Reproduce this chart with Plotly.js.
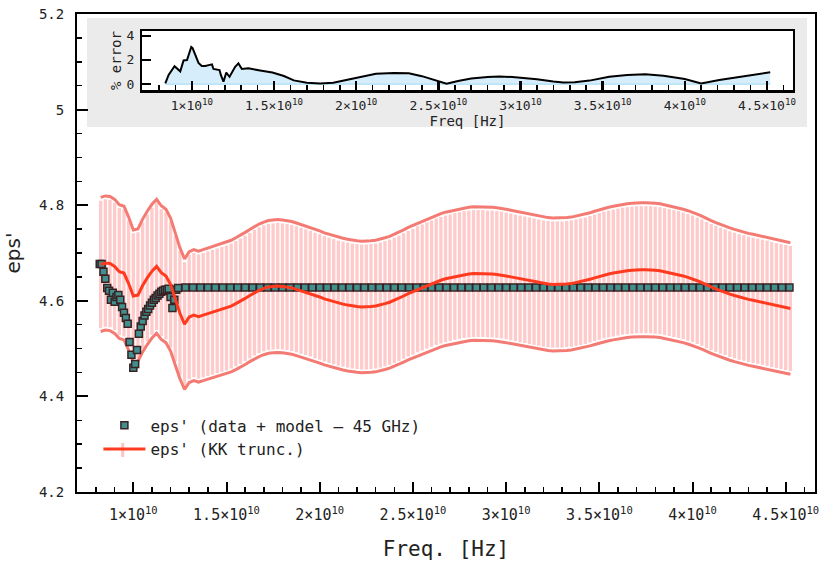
<!DOCTYPE html>
<html>
<head>
<meta charset="utf-8">
<script src="https://cdn.plot.ly/plotly-3.0.1.min.js"></script>
<style>html,body{margin:0;padding:0;background:#fff;}</style>
</head>
<body>
<div id="chart" style="width:826px;height:565px;"></div>
<script>
// ---- data (frequencies in GHz, converted to Hz for plotting) ----
const dataFreqGHz = [8.2,8.3,8.4,8.5,8.6,8.7,8.8,8.9,9.0,9.1,9.2,9.3,9.4,9.5,9.6,9.7,9.8,9.9,10.0,10.1,10.2,10.3,10.4,10.5,10.6,10.7,10.8,10.9,11.0,11.1,11.2,11.3,11.4,11.5,11.6,11.7,11.8,11.9,12.0,12.1,12.2,12.3,12.4,
  12.8,13.2,13.6,14.0,14.4,14.8,15.2,15.6,16.0,16.4,
  16.8,17.2,17.6,18.0,18.4,18.8,19.2,19.6,20.0,20.4,
  20.8,21.2,21.6,22.0,22.4,22.8,23.2,23.6,24.0,24.4,
  24.8,25.2,25.6,26.0,26.4,26.8,27.2,27.6,28.0,28.4,
  28.8,29.2,29.6,30.0,30.4,30.8,31.2,31.6,32.0,32.4,
  32.8,33.2,33.6,34.0,34.4,34.8,35.2,35.6,36.0,36.4,
  36.8,37.2,37.6,38.0,38.4,38.8,39.2,39.6,40.0,40.4,
  40.8,41.2,41.6,42.0,42.4,42.8,43.2,43.6,44.0,44.4,
  44.8,45.2];
const dataEps = [4.677,4.677,4.661,4.646,4.627,4.621,4.602,4.617,4.598,4.608,4.612,4.602,4.587,4.575,4.564,4.552,4.514,4.487,4.460,4.468,4.497,4.531,4.546,4.558,4.569,4.577,4.583,4.590,4.596,4.602,4.606,4.611,4.615,4.619,4.621,4.623,4.623,4.625,4.608,4.585,4.602,4.623,4.627,
  4.628,4.628,4.628,4.628,4.628,4.628,4.628,4.628,4.628,4.628,
  4.628,4.628,4.628,4.628,4.628,4.628,4.628,4.628,4.628,4.628,
  4.628,4.628,4.628,4.628,4.628,4.628,4.628,4.628,4.628,4.628,
  4.628,4.628,4.628,4.628,4.628,4.628,4.628,4.628,4.628,4.628,
  4.628,4.628,4.628,4.628,4.628,4.628,4.628,4.628,4.628,4.628,
  4.628,4.628,4.628,4.628,4.628,4.628,4.628,4.628,4.628,4.628,
  4.628,4.628,4.628,4.628,4.628,4.628,4.628,4.628,4.628,4.628,
  4.628,4.628,4.628,4.628,4.628,4.628,4.628,4.628,4.628,4.628,
  4.628,4.628];

const kkFreqGHz = [8.25,8.5,8.75,9.0,9.25,9.5,9.75,10.0,10.25,10.5,10.75,11.0,11.25,11.5,11.75,12.0,12.25,12.5,12.75,13.0,13.25,13.5,13.75,14.0,14.25,14.5,14.75,15.0,15.25,15.5,15.75,16.0,16.25,16.5,16.75,17.0,17.25,17.5,17.75,18.0,18.25,18.5,18.75,19.0,19.25,19.5,19.75,20.0,20.25,20.5,20.75,21.0,21.25,21.5,21.75,22.0,22.25,22.5,22.75,23.0,23.25,23.5,23.75,24.0,24.25,24.5,24.75,25.0,25.25,25.5,25.75,26.0,26.25,26.5,26.75,27.0,27.25,27.5,27.75,28.0,28.25,28.5,28.75,29.0,29.25,29.5,29.75,30.0,30.25,30.5,30.75,31.0,31.25,31.5,31.75,32.0,32.25,32.5,32.75,33.0,33.25,33.5,33.75,34.0,34.25,34.5,34.75,35.0,35.25,35.5,35.75,36.0,36.25,36.5,36.75,37.0,37.25,37.5,37.75,38.0,38.25,38.5,38.75,39.0,39.25,39.5,39.75,40.0,40.25,40.5,40.75,41.0,41.25,41.5,41.75,42.0,42.25,42.5,42.75,43.0,43.25,43.5,43.75,44.0,44.25,44.5,44.75,45.0,45.25];
const kkEps = [4.676,4.679,4.678,4.672,
  4.661,4.658,4.636,4.610,
  4.612,4.632,4.648,4.662,
  4.672,4.659,4.652,4.634,
  4.604,4.574,4.551,4.566,
  4.570,4.567,4.570,4.573,
  4.576,4.579,4.582,4.585,
  4.589,4.594,4.599,4.605,
  4.611,4.617,4.622,4.626,
  4.629,4.630,4.631,4.630,
  4.629,4.627,4.624,4.621,
  4.618,4.615,4.611,4.608,
  4.604,4.601,4.598,4.595,
  4.593,4.591,4.589,4.588,
  4.587,4.587,4.588,4.589,
  4.591,4.594,4.597,4.601,
  4.605,4.610,4.615,4.619,
  4.624,4.628,4.632,4.636,
  4.640,4.643,4.646,4.648,
  4.651,4.653,4.655,4.656,
  4.657,4.657,4.657,4.656,
  4.656,4.655,4.654,4.652,
  4.650,4.648,4.646,4.644,
  4.642,4.640,4.638,4.636,
  4.635,4.634,4.634,4.634,
  4.635,4.636,4.638,4.640,
  4.642,4.645,4.648,4.651,
  4.654,4.656,4.658,4.660,
  4.662,4.663,4.664,4.665,
  4.665,4.665,4.665,4.664,
  4.663,4.661,4.659,4.657,
  4.655,4.652,4.649,4.646,
  4.642,4.638,4.633,4.629,
  4.625,4.621,4.618,4.614,
  4.611,4.608,4.606,4.603,
  4.601,4.599,4.597,4.595,
  4.592,4.590,4.588,4.586,
  4.584];
const kkErrPct = 3;   // KK truncation uncertainty, % of value

const errFreqGHz = [8.38,8.58,8.94,9.29,9.49,9.70,9.96,10.04,10.40,10.60,10.81,11.05,11.22,11.31,11.52,11.68,11.76,11.92,12.09,12.29,12.63,12.83,13.04,13.44,14.15,14.9,15.6,16.2,17.0,17.8,18.6,19.4,20.2,21.2,22.3,23.2,24.0,24.8,25.5,26.2,27.0,28.0,28.7,29.5,30.0,31.0,32.0,32.6,33.3,34.2,35.4,36.5,37.6,38.7,40.0,41.0,42.1,43.5,45.2];
const errPct = [0.06,0.75,1.48,1.05,1.95,1.99,3.07,2.98,1.75,1.50,1.50,1.55,1.63,1.25,1.18,1.16,0.75,0.19,0.94,0.60,1.43,1.71,1.24,1.30,1.12,0.95,0.66,0.30,0.10,0.05,0.10,0.33,0.60,0.85,0.92,0.89,0.65,0.30,0.03,0.25,0.45,0.58,0.62,0.58,0.54,0.40,0.20,0.12,0.15,0.28,0.60,0.75,0.80,0.69,0.41,0.04,0.33,0.60,0.97];

const xTickVals = [1e10,1.5e10,2e10,2.5e10,3e10,3.5e10,4e10,4.5e10];
const xTickText = ['1×10<sup>10</sup>','1.5×10<sup>10</sup>','2×10<sup>10</sup>','2.5×10<sup>10</sup>','3×10<sup>10</sup>','3.5×10<sup>10</sup>','4×10<sup>10</sup>','4.5×10<sup>10</sup>'];
const yTickValsInset = [0,2,4];

// ---- build traces ----
const GHz = 1e9;
const dataHz = dataFreqGHz.map(f => f*GHz);
const kkHz = kkFreqGHz.map(f => f*GHz);
const errHz = errFreqGHz.map(f => f*GHz);
const kkUpper = kkEps.map(v => v*(1+kkErrPct/100));
const kkLower = kkEps.map(v => v*(1-kkErrPct/100));

const MONO = 'DejaVu Sans Mono';
const traces = [
  { // error bars of the KK series (pink band)
    x: kkHz, y: kkEps, type:'scatter', mode:'lines',
    line:{width:0, color:'rgba(0,0,0,0)'},
    error_y:{type:'percent', value: kkErrPct - 0.15, color:'#ffcaca', thickness:3.3, width:0},
    showlegend:false, hoverinfo:'skip'
  },
  { x: kkHz, y: kkUpper, type:'scatter', mode:'lines', line:{color:'#f47b73', width:3}, showlegend:false, hoverinfo:'skip' },
  { x: kkHz, y: kkLower, type:'scatter', mode:'lines', line:{color:'#f47b73', width:3}, showlegend:false, hoverinfo:'skip' },
  { name:"eps' (data + model – 45 GHz)", x: dataHz, y: dataEps, type:'scatter', mode:'markers',
    marker:{symbol:'square', size:7, color:'#428f8f', line:{color:'#3a2222', width:1.5}} },
  { name:"eps' (KK trunc.)", x: kkHz, y: kkEps, type:'scatter', mode:'lines',
    line:{color:'#ff3a1e', width:3} },
  // inset
  { x:[errHz[0], errHz[errHz.length-1]], y:[0,0], xaxis:'x2', yaxis:'y2', type:'scatter', mode:'lines',
    line:{color:'#a9dcf6', width:1.5}, showlegend:false, hoverinfo:'skip' },
  { x: errHz, y: errPct, xaxis:'x2', yaxis:'y2', type:'scatter', mode:'lines', fill:'tozeroy',
    fillcolor:'rgba(196,230,250,0.7)', line:{color:'black', width:2}, showlegend:false }
];

const xr = [0.698e10, 4.657e10];
const layout = {
  width:826, height:565,
  margin:{l:77, r:11, t:14, b:73},
  paper_bgcolor:'white', plot_bgcolor:'white',
  font:{family:MONO, color:'#222'},
  xaxis:{
    domain:[0,1], range:xr, showgrid:false, zeroline:false,
    showline:true, linecolor:'black', linewidth:2, mirror:true,
    ticks:'inside', ticklen:10, tickwidth:2, tickcolor:'black',
    tickvals:xTickVals, ticktext:xTickText, tickfont:{family:MONO, size:15, color:'#222'},
    ticklabelstandoff:8,
    minor:{tick0:0, dtick:1e9, ticks:'inside', ticklen:5, tickwidth:1.5, tickcolor:'black'},
    title:{text:'Freq. [Hz]', font:{family:MONO, size:21, color:'#222'}, standoff:18}
  },
  yaxis:{
    range:[4.2,5.2], tick0:4.2, dtick:0.2, showgrid:false, zeroline:false,
    showline:true, linecolor:'black', linewidth:2, mirror:true,
    ticks:'inside', ticklen:11, tickwidth:2, tickcolor:'black',
    tickfont:{family:MONO, size:14, color:'#222'}, ticklabelstandoff:8,
    minor:{tick0:4.2, dtick:0.05, ticks:'inside', ticklen:5, tickwidth:1.5, tickcolor:'black'},
    title:{text:"eps'", font:{family:'DejaVu Sans', size:20, color:'#222'}, standoff:13}
  },
  xaxis2:{
    domain:[0.0885,0.9698], anchor:'y2', range:xr, showgrid:false, zeroline:false,
    showline:true, linecolor:'black', linewidth:2.5, mirror:true,
    ticks:'inside', ticklen:9, tickwidth:2.5, tickcolor:'black',
    tickvals:xTickVals, ticktext:xTickText, tickfont:{family:MONO, size:13, color:'#222'},
    ticklabelstandoff:2,
    minor:{tick0:0, dtick:1e9, ticks:'inside', ticklen:5, tickwidth:1.5, tickcolor:'black'},
    title:{text:'Freq [Hz]', font:{family:MONO, size:14, color:'#222'}, standoff:0}
  },
  yaxis2:{
    domain:[0.841,0.9644], anchor:'x2', range:[-0.5,4.4], showgrid:false, zeroline:false,
    showline:true, linecolor:'black', linewidth:2.5, mirror:true,
    ticks:'inside', ticklen:9, tickwidth:2.5, tickcolor:'black',
    tickvals:yTickValsInset, tickfont:{family:MONO, size:13, color:'#222'}, ticklabelstandoff:3,
    title:{text:'% error', font:{family:MONO, size:14, color:'#222'}, standoff:2}
  },
  legend:{x:0.029, y:0.175, xanchor:'left', yanchor:'top', bgcolor:'rgba(0,0,0,0)',
    font:{family:MONO, size:16, color:'#222'}, itemwidth:42, tracegroupgap:0},
  shapes:[
    {type:'rect', xref:'paper', yref:'paper', x0:0.01355, x1:0.9892, y0:0.7636, y1:0.9916,
     fillcolor:'#ebebeb', line:{width:0}, layer:'below'},
    {type:'rect', xref:'paper', yref:'paper', x0:0.0885, x1:0.9698, y0:0.841, y1:0.9644,
     fillcolor:'white', line:{width:0}, layer:'below'},
    {type:'line', xref:'paper', yref:'paper', x0:0.0619, x1:0.0619, y0:0.0732, y1:0.1025,
     line:{color:'#ffc4c4', width:3}, layer:'above'}
  ]
};

Plotly.newPlot('chart', traces, layout, {staticPlot:true, displayModeBar:false});
</script>
</body>
</html>
